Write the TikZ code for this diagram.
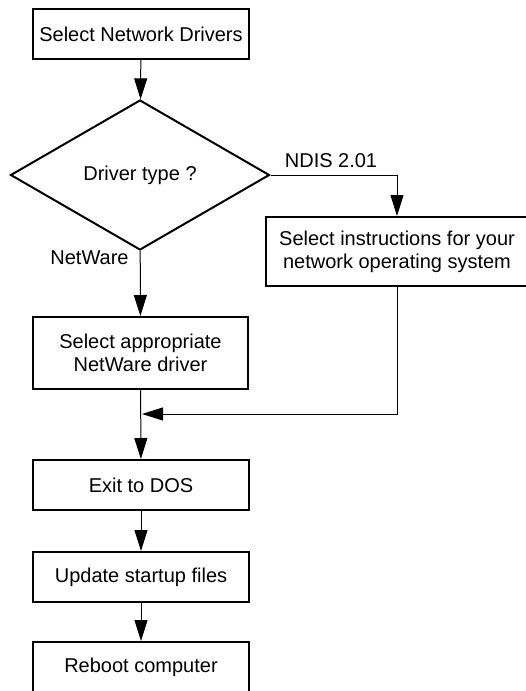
\documentclass[tikz,border=0pt]{standalone}
\usepackage{fontspec}
\setmainfont{Liberation Sans}
\usepackage{tikz}
\usetikzlibrary{arrows.meta,shapes.geometric}
\newcommand{\flow}[2]{\draw[line width=1pt,-{Triangle[length=21pt,width=13pt]}] (#1) -- (#2);}

\begin{document}
\begin{tikzpicture}[x=1pt,y=-1pt,font=\fontsize{20}{23}\selectfont,
	box/.style={draw,line width=2pt,minimum width=216pt,minimum height=50pt,inner sep=0pt,align=center}]
			\clip (0,0) rectangle (526,691);
			\node[box](drivers) at (141,34) {Select Network Drivers};
			\node[draw,diamond,line width=2pt,minimum width=259pt,minimum height=150pt,inner sep=0pt](type) at (140,175) {Driver type ?};
			\node[box,minimum width=262pt,minimum height=69pt](ndis) at (397,251.5) {Select instructions for your\\network operating system};
			\node[box,minimum width=215pt,minimum height=72pt](netware) at (140.5,353) {Select appropriate\\NetWare driver};
			\node[box](exit) at (141,485) {Exit to DOS};
			\node[box](update) at (141,577) {Update startup files};
			\node[box](reboot) at (141,667) {Reboot computer};
			\node(ndislabel) at (331,161) {NDIS 2.01};
			\node(nwlabel) at (89.5,258) {NetWare};
			\coordinate(join) at (142,414);
			
			\flow{drivers}{type}
			\draw[line width=1pt,-{Triangle[length=21pt,width=13pt]}] (type.east) -| (ndis.north);
			\flow{type}{netware}
			\draw[line width=1pt,-{Triangle[length=21pt,width=13pt]}] (ndis.south) |- (join);
			\flow{netware}{exit}
			\flow{exit}{update}
			\flow{update}{reboot}
		\end{tikzpicture}
\end{document}
